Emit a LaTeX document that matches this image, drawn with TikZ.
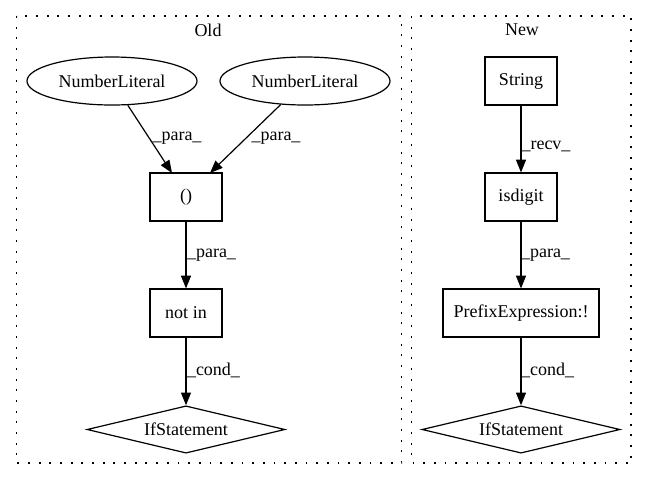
\documentclass[tikz,border=0pt]{standalone}
\usepackage{fontspec}
\setmainfont{Liberation Serif}
\usetikzlibrary{shapes.geometric,arrows.meta}
\begin{document}
\begin{tikzpicture}[x=0.75pt,y=-0.75pt,
  every node/.style={font=\fontsize{13.5pt}{16pt}\selectfont},
  cluster/.style={draw,line width=1pt,dash pattern=on 1.4pt off 6.6pt},
  boxnode/.style={draw,line width=0.9pt,rectangle,minimum height=36pt,inner sep=0pt},
  ellnode/.style={draw,line width=0.9pt,ellipse,minimum width=127.5pt,minimum height=36pt,inner sep=0pt},
  dianode/.style={draw,line width=0.9pt,diamond,aspect=4.2,minimum width=148.5pt,minimum height=35.5pt,inner sep=0pt},
  edge/.style={draw,line width=0.9pt,-{Triangle[length=9.5pt,width=7.5pt]}},
  lbl/.style={inner sep=0pt},
  title/.style={inner sep=0pt}]
\useasboundingbox (0,0) rectangle (647,480);
\draw[cluster] (16.5,16) rectangle (401.5,463);
\draw[cluster] (411.5,16) rectangle (631,463);
\node[title] (told) at (208,30) {Old};
\node[title] (tnew) at (522,30) {New};
% Old
\node[ellnode] (nl1) at (112,81) {NumberLiteral};
\node[ellnode] (nl2) at (305,81) {NumberLiteral};
\node[boxnode,minimum width=54pt] (paren) at (186,197) {()};
\node[boxnode,minimum width=54pt] (notin) at (186,313) {not in};
\node[dianode] (if1) at (186,429.5) {IfStatement};
\coordinate (p1) at (172,173);
\coordinate (p2) at (210,173);
\draw[edge] (nl1) -- (p1);
\draw[edge] (nl2) -- (p2);
\draw[edge] (paren) -- (notin);
\draw[edge] (notin) -- (if1);
\node[lbl] (l1) at (177,138) {\_para\_};
\node[lbl] (l2) at (276,138) {\_para\_};
\node[lbl] (l3) at (211.5,255) {\_para\_};
\node[lbl] (l4) at (213.5,370) {\_cond\_};
% New
\node[boxnode,minimum width=54pt] (str) at (521,81) {String};
\node[boxnode,minimum width=54pt] (isd) at (521,197) {isdigit};
\node[boxnode,minimum width=117pt] (pre) at (521,313) {PrefixExpression:!};
\node[dianode] (if2) at (521,429.5) {IfStatement};
\draw[edge] (str) -- (isd);
\draw[edge] (isd) -- (pre);
\draw[edge] (pre) -- (if2);
\node[lbl] (l5) at (546,146) {\_recv\_};
\node[lbl] (l6) at (545.5,255) {\_para\_};
\node[lbl] (l7) at (547.5,370) {\_cond\_};
\end{tikzpicture}
\end{document}
